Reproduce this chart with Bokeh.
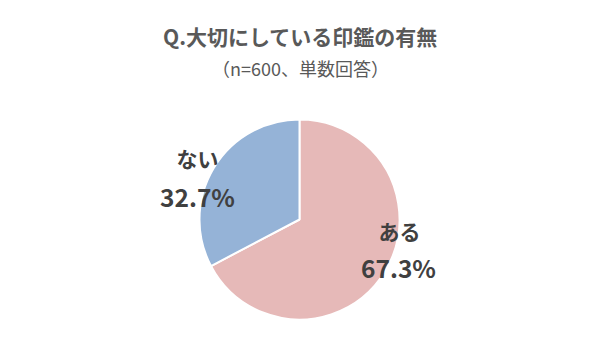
import numpy as np
from bokeh.plotting import figure
from bokeh.models import ColumnDataSource, Range1d
from bokeh.core.properties import value
from bokeh.embed import file_html
from bokeh.resources import INLINE

# ---- data ----
categories = ["ある", "ない"]
shares = [67.3, 32.7]
colors = ["#E6B9B8", "#95B3D7"]
title_text = "Q.大切にしている印鑑の有無"
subtitle_text = "（n=600、単数回答）"

W, H = 600, 356
p = figure(width=W, height=H, output_backend="svg", toolbar_location=None,
           x_range=Range1d(0, W), y_range=Range1d(0, H), min_border=0)
p.axis.visible = False
p.grid.visible = False
p.outline_line_color = None
p.background_fill_color = "white"

cx, cy, R = 299, H - 219, 100
vals = np.array(shares, dtype=float)
frac = vals / vals.sum()
cum = np.concatenate([[0], np.cumsum(frac)])
start = np.pi / 2 - 2 * np.pi * cum[:-1]
end = np.pi / 2 - 2 * np.pi * cum[1:]

src = ColumnDataSource(dict(x=[cx] * len(vals), y=[cy] * len(vals),
                            start=start, end=end, color=colors, cat=categories))
p.wedge(x="x", y="y", radius=R, radius_units="screen", start_angle="start",
        end_angle="end", direction="clock", fill_color="color",
        line_color="white", line_width=2, source=src)

# label offsets (layout)
name_off = [(100, -11), (-102, 62)]
pct_off = [(99, -48), (-102, 23)]
font = value("Noto Sans CJK JP")
for i, cat in enumerate(categories):
    p.text(x=[cx + name_off[i][0]], y=[cy + name_off[i][1]], text=[cat],
           text_font=font, text_font_size="21px", text_font_style="bold",
           text_color="#404040", text_align="center", text_baseline="middle")
    p.text(x=[cx + pct_off[i][0]], y=[cy + pct_off[i][1]], text=[f"{vals[i]:.1f}%"],
           text_font=font, text_font_size="24.5px", text_font_style="bold",
           text_color="#404040", text_align="center", text_baseline="middle")

p.text(x=[W / 2], y=[H - 35], text=[title_text], text_font=font,
       text_font_size="21px", text_font_style="bold", text_color="#595959",
       text_align="center", text_baseline="middle")
p.text(x=[W / 2], y=[H - 67], text=[subtitle_text], text_font=font,
       text_font_size="18px", text_color="#595959",
       text_align="center", text_baseline="middle")

open("out.html", "w").write(file_html(p, INLINE))
